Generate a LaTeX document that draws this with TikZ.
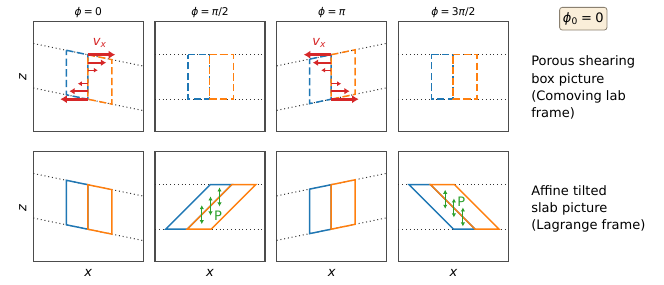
\documentclass[tikz,border=0pt]{standalone}
\usepackage{fontspec}
\setmainfont{DejaVu Sans}
\usetikzlibrary{arrows.meta}

\definecolor{tabblue}{HTML}{1F77B4}
\definecolor{taborange}{HTML}{FF7F0E}
\definecolor{tabred}{HTML}{D62728}
\definecolor{tabgreen}{HTML}{2CA02C}
\definecolor{wheatbox}{HTML}{FAEED9}
\definecolor{wheatedge}{HTML}{8A8070}

\newcommand{\phisym}{{\itshape ϕ}}
\newcommand{\piit}{{\itshape π}}

\tikzset{
  panel/.style={draw=black!70, line width=.9pt},
  guide/.style={draw=black!80, line width=.75pt, dash pattern=on .75pt off 2.1pt},
  cellbox/.style={line width=1.1pt},
  dashbox/.style={cellbox, dash pattern=on 5.5pt off 2.5pt},
  vflow/.style={draw=tabred, -{Latex[length=1pt 2, width=1.2pt 2.5]}},
  pflow/.style={draw=tabgreen, line width=.75pt, {Latex[length=3pt,width=3.3pt]}-{Latex[length=3pt,width=3.3pt]}},
  lbl/.style={font=\fontsize{9.75}{13}\selectfont},
  ttl/.style={font=\fontsize{8}{9.5}\selectfont},
}

\begin{document}
\begin{tikzpicture}[x=.75pt, y=-.75pt]
\useasboundingbox (0,0) rectangle (664,285);
\foreach \n/\ang/\s/\h/\d in {0/{0}/.205/0/1, 1/{\piit/2}/0/1/0, 2/{\piit}/-.205/0/-1, 3/{3\piit/2}/0/-1/0}{
  \begin{scope}[shift={({33.3+121.7*\n},21.7)}]
    \node[ttl] (title\n) at (55,-9.2) {\phisym\hspace{.22em}=\hspace{.22em}\ang};
    \draw[panel] (0,0) rectangle (110,110);
    \draw[guide] (0,{33-54.5*\s}) -- (110,{33+55.5*\s});
    \draw[guide] (0,{77.5-54.5*\s}) -- (110,{77.5+55.5*\s});
    \draw[dashbox, tabblue] (33,{33-21.5*\s}) -- (54.5,33) -- (54.5,77.5) -- (33,{77.5-21.5*\s}) -- cycle;
    \draw[dashbox, taborange] (54.5,33) -- (78.5,{33+24*\s}) -- (78.5,{77.5+24*\s}) -- (54.5,77.5) -- cycle;
    \ifnum\d=0 \else
      \foreach \y/\l/\w in {33/27.5/2, 41/18.5/1.5, 48.5/10/1, 62/-10/1, 69.5/-18.5/1.5, 77.5/-27.5/2}
        \draw[vflow, line width=\w pt] (54.5,\y) -- ++({\d*\l},0);
      \node[lbl, tabred] (vx\n) at ({54.5+12*\d},21) {{\itshape v}\textsubscript{\itshape x}};
    \fi
  \end{scope}
  \begin{scope}[shift={({33.3+121.7*\n},151.7)}]
    \draw[panel] (0,0) rectangle (110,110);
    \draw[guide] (0,{33-54.5*\s}) -- (110,{33+55.5*\s});
    \draw[guide] (0,{77.5-54.5*\s}) -- (110,{77.5+55.5*\s});
    \draw[cellbox, tabblue] ({33+22.25*\h},{33-21.5*\s}) -- ({54.5+22.25*\h},33) -- ({54.5-22.25*\h},77.5) -- ({33-22.25*\h},{77.5-21.5*\s}) -- cycle;
    \draw[cellbox, taborange] ({54.5+22.25*\h},33) -- ({78.5+22.25*\h},{33+24*\s}) -- ({78.5-22.25*\h},{77.5+24*\s}) -- ({54.5-22.25*\h},77.5) -- cycle;
    \node[lbl] (xlab\n) at (55,121) {\itshape x};
    \ifnum\h=0 \else
      \foreach \px in {46.8,55.5,64.5}
        \draw[pflow] (\px,{55.25-(\px-54.5)/\h-9.5}) -- ++(0,19);
      \node[lbl, tabgreen] (pres\n) at (63,{57.2+7.1*\h}) {P};
    \fi
  \end{scope}
}
\node[lbl, rotate=90] (ztop) at (22.7,77) {\itshape z};
\node[lbl, rotate=90] (zbot) at (22.7,207.7) {\itshape z};
\node[lbl, fill=wheatbox, draw=wheatedge, line width=.6pt, rounded corners=2pt, inner xsep=2.5pt, minimum height=17pt] (phizero) at (583.3,18.7) {\phisym\textsubscript{0}\hspace{.25em}=\hspace{.25em}0};
\node[lbl, anchor=west, align=left, inner sep=0pt] (porous) at (531,87.7) {Porous shearing\\box picture\\(Comoving lab\\frame)};
\node[lbl, anchor=west, align=left, inner sep=0pt] (affine) at (531,209) {Affine tilted\\slab picture\\(Lagrange frame)};
\end{tikzpicture}
\end{document}
